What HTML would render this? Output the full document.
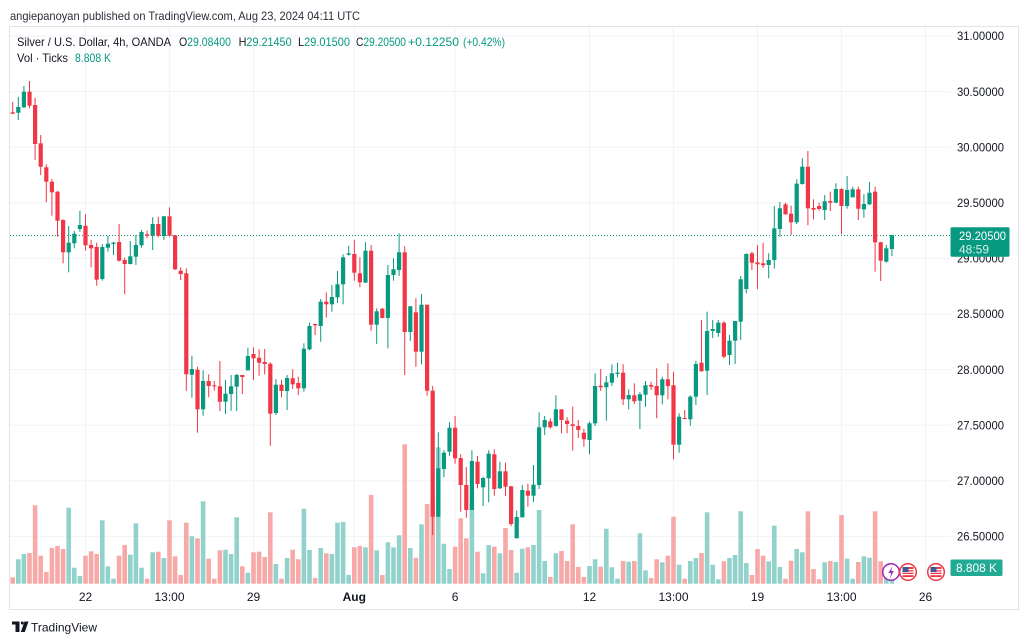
<!DOCTYPE html>
<html><head><meta charset="utf-8"><style>
html,body{margin:0;padding:0;background:#fff;}
svg{display:block;font-family:"Liberation Sans",Arial,sans-serif;}
</style></head><body>
<svg id="s" width="1024" height="643" viewBox="0 0 1024 643" xmlns="http://www.w3.org/2000/svg">
<rect width="1024" height="643" fill="#fff"/>
<g id="grid"></g>
<g id="vol"></g>
<line x1="10" y1="235.5" x2="950" y2="235.5" stroke="#089981" stroke-width="1" stroke-dasharray="1,2"/>
<g id="cdl"></g>
<rect x="9.5" y="26.5" width="1009" height="583" fill="none" stroke="#e0e3eb" stroke-width="1"/>
<text x="10" y="20" font-size="12" fill="#2a2e39" textLength="350" lengthAdjust="spacingAndGlyphs">angiepanoyan published on TradingView.com, Aug 23, 2024 04:11 UTC</text>
<g font-size="12" lengthAdjust="spacingAndGlyphs">
<text x="17" y="46" fill="#131722" textLength="154" lengthAdjust="spacingAndGlyphs">Silver / U.S. Dollar, 4h, OANDA</text>
<text x="179" y="46" textLength="52" lengthAdjust="spacingAndGlyphs"><tspan fill="#131722">O</tspan><tspan fill="#089981">29.08400</tspan></text>
<text x="238.6" y="46" textLength="53" lengthAdjust="spacingAndGlyphs"><tspan fill="#131722">H</tspan><tspan fill="#089981">29.21450</tspan></text>
<text x="298" y="46" textLength="52" lengthAdjust="spacingAndGlyphs"><tspan fill="#131722">L</tspan><tspan fill="#089981">29.01500</tspan></text>
<text x="356" y="46" textLength="50" lengthAdjust="spacingAndGlyphs"><tspan fill="#131722">C</tspan><tspan fill="#089981">29.20500</tspan></text>
<text x="408" y="46" fill="#089981" textLength="51" lengthAdjust="spacingAndGlyphs">+0.12250</text>
<text x="463" y="46" fill="#089981" textLength="42" lengthAdjust="spacingAndGlyphs">(+0.42%)</text>
<text x="17" y="62" fill="#131722" textLength="51" lengthAdjust="spacingAndGlyphs">Vol · Ticks</text>
<text x="75" y="62" fill="#089981" textLength="36" lengthAdjust="spacingAndGlyphs">8.808 K</text>
</g>
<g id="paxis" font-size="12" fill="#131722"></g>
<rect x="950.5" y="227.3" width="59" height="29.4" rx="1.5" fill="#089981"/>
<text x="959" y="240" font-size="12" fill="#fff" textLength="47" lengthAdjust="spacingAndGlyphs">29.20500</text>
<text x="959" y="253.5" font-size="12" fill="#d6f0ea" textLength="30" lengthAdjust="spacingAndGlyphs">48:59</text>
<rect x="950.5" y="559.5" width="52" height="16.5" rx="1.5" fill="#22ab94"/>
<text x="956" y="572" font-size="12" fill="#fff" textLength="41" lengthAdjust="spacingAndGlyphs">8.808 K</text>
<g id="taxis" font-size="12" fill="#131722" text-anchor="middle"></g>
<g>
<circle cx="891" cy="572" r="8.3" fill="#fff" stroke="#9c27b0" stroke-width="1.5"/>
<path d="M892.5 566 L888.5 573 L891.2 573 L889.8 578.5 L893.8 571 L891.1 571 Z" fill="#9c27b0"/>
<circle cx="908" cy="572" r="8.3" fill="#fff" stroke="#f23645" stroke-width="1.5"/>
<rect x="902.5" y="567" width="11" height="10" fill="#f23645"/>
<rect x="902.5" y="569" width="11" height="1.2" fill="#fff"/>
<rect x="902.5" y="571.5" width="11" height="1.2" fill="#fff"/>
<rect x="902.5" y="574" width="11" height="1.2" fill="#fff"/>
<rect x="902.5" y="567" width="6" height="5" fill="#3d5a98"/>
<circle cx="936" cy="572" r="8.3" fill="#fff" stroke="#f23645" stroke-width="1.5"/>
<rect x="930.5" y="567" width="11" height="10" fill="#f23645"/>
<rect x="930.5" y="569" width="11" height="1.2" fill="#fff"/>
<rect x="930.5" y="571.5" width="11" height="1.2" fill="#fff"/>
<rect x="930.5" y="574" width="11" height="1.2" fill="#fff"/>
<rect x="930.5" y="567" width="6" height="5" fill="#3d5a98"/>
</g>
<g fill="#131722">
<rect x="12" y="621.5" width="7.5" height="3"/>
<rect x="15.5" y="621.5" width="4" height="10.5"/>
<circle cx="22.3" cy="623" r="1.5"/>
<path d="M24.5 621.5 L28.5 621.5 L24.8 632 L20.8 632 Z"/>
<text x="31" y="631.5" font-size="12" textLength="66" lengthAdjust="spacingAndGlyphs">TradingView</text>
</g>
</svg>
<script>
(function(){
var NS="http://www.w3.org/2000/svg";
function el(p,t,a,txt){var e=document.createElementNS(NS,t);for(var k in a)e.setAttribute(k,a[k]);if(txt!=null)e.textContent=txt;p.appendChild(e);return e;}
var G="#089981",R="#f23645",VG="#92d2cc",VR="#f7a9a7";
var C=[
[101.7,112.3,113.7,114,'r'],[97,107,112.7,120,'g'],[86,91.7,107.3,108.3,'g'],[81,91.7,105.7,108.3,'r'],
[97.7,105,144,160,'r'],[135,143.3,166.7,175,'r'],[164.3,167.3,181.7,202.3,'r'],[179,181.7,192.3,215.7,'r'],
[191,191.7,220.7,236.7,'r'],[219.3,220,252.3,263.3,'r'],[226,242.7,252.3,272.3,'g'],[231,233.7,243.3,248.3,'g'],
[210.7,225,229,231.7,'g'],[214.3,225.7,245.3,250.7,'r'],[240,245,248.3,267.3,'r'],[242.7,247,279.7,285.7,'r'],
[244,247,279,280.7,'g'],[235.7,243.7,247.7,251.7,'g'],[241.7,242.7,244,255,'g'],[224,242,260.7,261.7,'r'],
[257.7,260,264,294.3,'r'],[241,256.3,264,264.3,'g'],[235,245,256.7,265,'g'],[230,232,245.3,247.7,'g'],
[230.7,234.3,235.7,238.3,'r'],[217.3,224,235.7,250,'g'],[216.7,224,235.7,237.3,'r'],[216,216.3,236,240,'g'],
[207.3,216.3,235.7,236.7,'r'],[235,235.3,269.3,270,'r'],[267.3,270.7,274,280,'r'],[268.3,273.3,374.3,391,'r'],
[355.7,369,374.7,397.7,'g'],[366.7,369.7,409.3,432.7,'r'],[370.3,381,409.3,415.7,'g'],[374.3,381,386,397.3,'r'],
[381,385.3,386.3,390.7,'r'],[361,386.3,401.7,411,'r'],[380,393.7,401.7,414,'g'],[375,386.3,394,410.7,'g'],
[373.7,375,386.7,411,'g'],[375,375,377,394,'r'],[347.7,356,370.3,370.7,'g'],[347.3,354,358.3,380,'r'],
[349.3,357.7,362.7,375.7,'r'],[349,362,364,374.3,'r'],[362.3,363.7,413.7,445.7,'r'],[379,384.7,413,415,'g'],
[379.7,384.7,391,397.3,'r'],[375,378,391,410,'g'],[369.3,378.3,384.3,389,'r'],[376.7,383,388.3,395,'r'],
[343.3,348.7,388.3,391.7,'g'],[322.7,326,349.3,350.3,'g'],[323.7,324,325.3,335,'r'],[299,301.7,326,341.7,'g'],
[292.3,301.7,304.3,317.7,'r'],[285,297,304.3,311.7,'g'],[271,284.3,297.3,303,'g'],[254.3,257.3,284.3,304.3,'g'],
[245.7,253.3,254.7,255.7,'g'],[240,254,272.7,280.7,'r'],[257.3,273.3,282.3,287.3,'r'],[242.3,250.7,282.7,282.7,'g'],
[245,250.7,324.7,330.7,'r'],[308.3,311.3,324.7,344,'g'],[308,308.7,318,318.3,'r'],[265,275,318,348.3,'g'],
[258.3,269.3,275,280.7,'g'],[233.3,252.3,270,276,'g'],[246.3,252.3,332,375,'r'],[306,306.3,332,341,'g'],
[298.3,312.3,351.7,366.7,'r'],[294,304.7,351.7,364.3,'g'],[304.7,304.7,390.7,395.7,'r'],[386,390.7,516.7,535,'r'],
[432.3,468.3,516.7,516.7,'g'],[450.3,452.7,469,477.3,'g'],[422.3,427.7,451.7,455.7,'g'],[416,427.7,458.3,463.7,'r'],
[454.3,458,485,511.7,'r'],[467,485,510,517.7,'r'],[450.3,461,510,510,'g'],[456,461.7,484,488.3,'r'],
[476.7,478,487.3,506,'g'],[450.3,453.7,478.3,502.3,'g'],[449.3,454.3,489,495.7,'r'],[461.7,471.3,488.3,489,'g'],
[462.7,471.3,486.7,496,'r'],[486,486.3,524,526,'r'],[510.7,517,538.3,538.3,'g'],[485,490,517.3,517.7,'g'],
[483.7,490.7,495.7,506.7,'r'],[465,484.7,495.7,502,'g'],[412.3,427.3,485,489,'g'],[416,420,427.3,435,'g'],
[418.3,421.3,427.3,428.7,'r'],[395.3,409.3,426,426.7,'g'],[409.3,409.3,420,433.3,'r'],[417.3,420.7,424,433.3,'r'],
[406.7,424.3,426,450.7,'r'],[420,426,430,438,'r'],[428.7,432.7,439.3,446.7,'r'],[421.7,423.3,440,454.3,'g'],
[373.3,386,423.3,426,'g'],[369,385.7,387.3,391,'r'],[376,382.3,387.3,420.7,'g'],[364.3,373.3,382.7,386,'g'],
[362.7,372.7,374,377.3,'g'],[364.3,372.7,399.3,405,'r'],[389.3,395,399.3,409.3,'g'],[383.3,395.3,401.3,404,'r'],
[392,394.3,400.7,429,'g'],[381,385.3,394.7,406.7,'g'],[381.7,385,386.7,390,'r'],[368.3,386,395.3,418.3,'r'],
[376.7,379.3,395.3,404.3,'g'],[363.3,379.3,386,399.3,'r'],[371.7,385.3,444.7,459.3,'r'],[413.3,416.7,444.7,452.7,'g'],
[410,418,419,419.3,'r'],[395.3,396.7,419.3,425.7,'g'],[361,364,396.7,405,'g'],[320,362.7,371.3,371.7,'r'],
[311.7,331,370.7,395,'g'],[320,329,331,338,'g'],[320,322.7,333,336.7,'g'],[321,322.7,356.7,358.3,'r'],
[335,340.7,355,365,'g'],[321,321,340.7,364,'g'],[276,279.3,321.7,340,'g'],[253.3,254,289,293.3,'g'],
[251.7,253.3,262.7,270,'r'],[245,262.3,264.3,289,'r'],[242.7,263.3,265.3,268,'r'],[253.3,260,265,278.3,'g'],
[206,228.3,260,268.3,'g'],[202,208.3,229,236.7,'g'],[202.7,204.3,214.3,214.7,'r'],[205.7,213.7,222.3,235,'r'],
[179.3,183.7,222.3,224,'g'],[158.3,166.7,184,184.7,'g'],[151,166.7,208.3,225.3,'r'],[199.3,208,209.7,219.3,'r'],
[202.7,206,209,210.7,'r'],[195,201.3,210,220,'g'],[191.7,201,202.7,211,'r'],[183.3,189,202.7,203.3,'g'],
[188.3,189,206,234.3,'r'],[176,190,206,208.7,'g'],[186.7,189.3,197.3,197.3,'g'],[186.7,189.3,208.7,220,'r'],
[194.3,204,209.3,217.7,'g'],[182,192.7,204.3,205,'g'],[186.7,191.7,242.3,271.7,'r'],[241.7,242.3,260.7,281,'r'],
[245,248.3,261.7,262.7,'g'],[235,235,249,256,'g']
];
var V=[577.3,559.3,554,553,505.3,555.7,572,548,546,549,507.7,567.7,576,555.7,551.3,554,520.3,566.3,578.7,555.7,
545,554.7,523.3,567.7,578.7,552.3,551.7,558,520.3,556.3,575,522.7,536.3,538.3,501.3,558.7,578.7,550.3,549.7,554,
517.3,566.3,572.7,552.3,551.7,557,512.3,564,578.7,558,549.7,559.3,508.7,
550,578,548,553.3,554,522.7,522,575,547.3,546,547.3,495,550.3,575,542.3,547.3,535.3,444.3,548,557.7,
524.3,504,498.3,447.3,543.7,569,546.7,518.3,538.3,502,551.7,573.3,545,546.7,553.3,528,550,572.7,548.7,547.3,
545,510,561,577,553.3,551,561,524.3,567,577,566,559.3,566.7,528.7,567.3,578.7,561,561.7,561,533.3,
570.3,578,559.3,562.3,555.7,516.7,564.7,578.7,561,558,553,512.3,564.7,579.3,561.3,558,555,511.3,563,575,
549,555.7,561.3,525.7,567,578.7,560.7,549,552.3,511.3,569,579.3,562.3,561,562,515,558.7,578.7,562,556.3,
557.7,511.3,561.3,575,580];
var grid=document.getElementById('grid'),vol=document.getElementById('vol'),cdl=document.getElementById('cdl');
var pax=document.getElementById('paxis'),tax=document.getElementById('taxis');
var prices=['31.00000','30.50000','30.00000','29.50000','29.00000','28.50000','28.00000','27.50000','27.00000','26.50000'];
for(var i=0;i<prices.length;i++){
  var y=36+i*55.6;
  el(grid,'line',{x1:10,y1:y,x2:950,y2:y,stroke:'#f0f3fa','stroke-width':1});
  el(pax,'text',{x:957,y:y+4.2,textLength:47,lengthAdjust:'spacingAndGlyphs'},prices[i]);
}
var T=[[13,'22'],[28,'13:00'],[43,'29'],[61,'Aug'],[79,'6'],[103,'12'],[118,'13:00'],[133,'19'],[148,'13:00'],[163,'26']];
for(var j=0;j<T.length;j++){
  var x=12.7+5.6*T[j][0];
  el(grid,'line',{x1:x,y1:27,x2:x,y2:586,stroke:'#f0f3fa','stroke-width':1});
  var a={x:x,y:601};
  if(T[j][1]==='Aug')a['font-weight']='bold';
  el(tax,'text',a,T[j][1]);
}
for(var k=0;k<V.length;k++){
  var xc=12.7+5.6*k,top=V[k];
  el(vol,'rect',{x:(xc-2.3).toFixed(2),y:top,width:4.6,height:(583.7-top).toFixed(2),fill:C[k][4]==='g'?VG:VR});
}
for(var n=0;n<C.length;n++){
  var c=C[n],xc2=12.7+5.6*n,col=c[4]==='g'?G:R;
  el(cdl,'rect',{x:(xc2-0.5).toFixed(2),y:c[0],width:1,height:Math.max(1,c[3]-c[0]).toFixed(2),fill:col});
  el(cdl,'rect',{x:(xc2-2.1).toFixed(2),y:c[1],width:4.2,height:Math.max(1,c[2]-c[1]).toFixed(2),fill:col});
}
})();
</script>
</body></html>
